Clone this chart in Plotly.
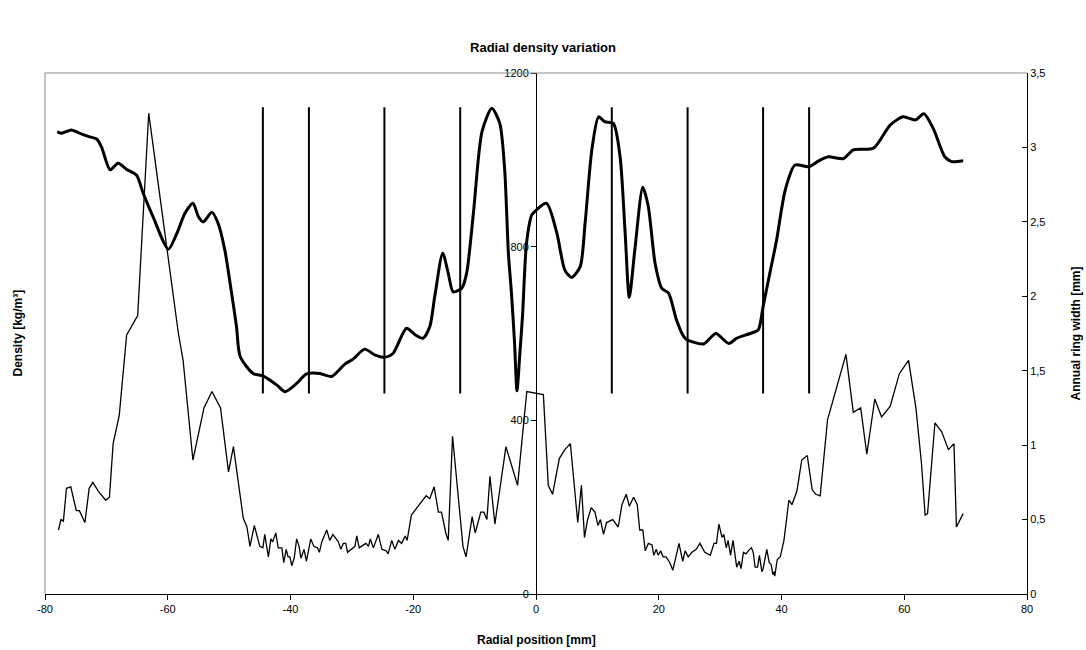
import plotly.graph_objects as go

# ---------------- data ----------------
density_x = [-78.0, -77.3, -75.7, -74.3, -72.7, -71.6, -70.8, -69.4, -68.1, -66.7, -65.1, -64.0,
             -62.4, -59.9, -58.5, -57.2, -55.9, -55.0, -54.2, -52.8, -51.8, -50.7, -49.6, -48.8,
             -48.2, -46.1, -44.4, -42.2, -40.9, -39.0, -37.4, -35.2, -33.3, -31.1, -29.8, -27.9,
             -26.2, -24.6, -23.3, -21.1, -19.7, -18.4, -17.3, -16.5, -15.2, -14.3, -13.5, -12.1,
             -11.3, -10.2, -8.8, -7.2, -5.9, -5.1, -4.5, -4.0, -3.5, -3.1, -2.6, -2.2, -1.6, -1.0,
             -0.7, 1.7, 3.4, 4.7, 5.8, 7.2, 8.0, 9.1, 10.2, 11.2, 12.6, 13.7, 14.5, 15.2, 16.1,
             17.4, 18.3, 19.4, 20.5, 21.6, 22.9, 24.3, 27.3, 29.3, 31.4, 32.7, 34.9, 36.2, 37.0,
             38.1, 39.2, 40.6, 42.2, 44.4, 46.0, 47.6, 50.1, 51.7, 55.0, 57.7, 59.8, 61.8, 63.2,
             64.7, 66.6, 67.7, 69.6]
density_y = [1065, 1061, 1069, 1061, 1053, 1048, 1030, 977, 992, 978, 965, 923,
             869, 794, 831, 877, 900, 869, 857, 879, 854, 792, 693, 616,
             547, 508, 502, 481, 466, 485, 507, 508, 501, 530, 541, 564,
             550, 545, 554, 612, 597, 589, 616, 685, 785, 739, 696, 704,
             739, 877, 1065, 1119, 1084, 977, 785, 693, 580, 468, 560, 640, 800, 858,
             873, 900, 831, 746, 729, 754, 854, 1023, 1099, 1088, 1084, 1007, 838, 683, 792,
             937, 892, 762, 704, 693, 631, 589, 576, 600, 577, 589, 600, 608, 662,
             739, 815, 930, 988, 984, 997, 1007, 1003, 1023, 1027, 1080, 1099, 1092, 1106,
             1073, 1007, 996, 998]

ring_x = [-77.8, -77.4, -77.0, -76.5, -75.8, -74.9, -74.4, -73.5, -72.8, -72.2, -71.3, -70.1,
          -69.5, -68.9, -67.9, -66.7, -64.9, -63.1, -58.3, -57.5, -55.9, -54.1, -52.8, -51.4,
          -50.1, -49.3, -47.7, -47.1, -46.6, -45.9, -45.0, -44.5, -44.2, -43.6, -43.2, -42.9,
          -42.4, -42.0, -41.4, -41.1, -40.7, -40.4, -40.1, -39.8, -39.4, -39.0, -38.6, -38.3,
          -37.8, -37.4, -36.7, -36.2, -35.6, -35.3, -34.9, -34.1, -33.6, -33.1, -32.2, -31.8,
          -31.4, -31.0, -30.7, -29.9, -29.5, -29.2, -28.8, -28.1, -27.7, -27.3, -27.0, -26.5,
          -25.7, -25.1, -24.4, -24.1, -23.5, -23.0, -22.4, -21.9, -21.3, -21.0, -20.3, -19.2,
          -17.9, -17.3, -16.6, -15.9, -15.4, -14.7, -14.3, -13.6, -12.7, -11.9, -11.4, -10.8,
          -10.4, -9.9, -9.0, -8.5, -8.0, -7.5, -6.7, -4.9, -3.0, -1.5, 1.2, 2.0, 2.7, 3.8,
          4.7, 5.6, 6.4, 6.8, 7.4, 7.9, 8.4, 9.0, 9.6, 10.1, 10.5, 11.0, 11.5, 12.5, 13.4,
          14.0, 14.7, 15.2, 15.9, 16.5, 16.9, 17.4, 17.8, 18.3, 18.9, 19.2, 19.6, 19.9, 20.3,
          20.7, 21.2, 21.8, 22.3, 22.6, 23.3, 23.9, 24.3, 24.8, 25.4, 26.1, 26.7, 27.5, 28.4,
          29.0, 29.4, 29.8, 30.3, 30.6, 31.0, 31.3, 31.7, 32.1, 32.7, 33.1, 33.4, 33.8, 34.2,
          34.8, 35.1, 35.4, 35.7, 36.1, 36.4, 36.8, 37.0, 37.6, 38.0, 38.3, 38.6, 38.8, 38.9,
          39.3, 39.8, 40.4, 41.2, 41.7, 42.5, 43.3, 44.2, 45.0, 45.6, 46.3, 47.5, 50.5, 51.7,
          52.9, 53.9, 55.2, 56.3, 57.7, 59.2, 60.7, 61.9, 62.8, 63.4, 63.8, 65.0, 66.1, 67.2,
          68.1, 68.5, 69.6]
ring_y = [0.43, 0.50, 0.49, 0.71, 0.72, 0.56, 0.56, 0.48, 0.71, 0.75, 0.69, 0.63,
          0.65, 1.01, 1.20, 1.74, 1.87, 3.23, 1.76, 1.57, 0.90, 1.25, 1.36, 1.25,
          0.82, 0.99, 0.51, 0.45, 0.32, 0.46, 0.32, 0.31, 0.40, 0.25, 0.37, 0.35,
          0.41, 0.31, 0.31, 0.21, 0.30, 0.25, 0.25, 0.19, 0.24, 0.37, 0.32, 0.24,
          0.30, 0.22, 0.37, 0.32, 0.31, 0.28, 0.35, 0.43, 0.36, 0.40, 0.35, 0.30,
          0.34, 0.34, 0.28, 0.31, 0.32, 0.39, 0.31, 0.33, 0.34, 0.32, 0.37, 0.31,
          0.40, 0.30, 0.29, 0.27, 0.36, 0.30, 0.36, 0.34, 0.39, 0.36, 0.53, 0.59,
          0.66, 0.64, 0.72, 0.55, 0.55, 0.41, 0.36, 1.06, 0.68, 0.32, 0.25, 0.43,
          0.52, 0.41, 0.55, 0.55, 0.50, 0.79, 0.47, 0.99, 0.73, 1.36, 1.34, 0.73, 0.67, 0.91,
          0.97, 1.01, 0.65, 0.48, 0.73, 0.38, 0.50, 0.58, 0.55, 0.46, 0.50, 0.40, 0.48, 0.50, 0.45,
          0.60, 0.67, 0.59, 0.65, 0.60, 0.43, 0.43, 0.29, 0.34, 0.33, 0.26, 0.30, 0.26, 0.29,
          0.25, 0.25, 0.21, 0.16, 0.22, 0.34, 0.22, 0.29, 0.25, 0.28, 0.30, 0.34, 0.28, 0.26,
          0.34, 0.34, 0.47, 0.38, 0.40, 0.31, 0.36, 0.26, 0.36, 0.18, 0.22, 0.17, 0.28, 0.27,
          0.30, 0.31, 0.28, 0.18, 0.18, 0.26, 0.15, 0.17, 0.30, 0.21, 0.20, 0.13, 0.15, 0.12,
          0.23, 0.25, 0.36, 0.63, 0.60, 0.69, 0.90, 0.93, 0.70, 0.67, 0.66, 1.17, 1.61, 1.22,
          1.25, 0.94, 1.31, 1.19, 1.26, 1.48, 1.57, 1.25, 0.88, 0.53, 0.54, 1.15, 1.09, 0.97,
          1.01, 0.45, 0.54]

ring_boundaries = [-44.5, -37.0, -24.7, -12.35, 12.35, 24.7, 37.0, 44.5]
boundary_low, boundary_high = 462, 1121

x_ticks = [-80, -60, -40, -20, 0, 20, 40, 60, 80]
x_tick_labels = ["-80", "-60", "-40", "-20", "0", "20", "40", "60", "80"]
density_ticks = [0, 400, 800, 1200]
ring_ticks = [0, 0.5, 1, 1.5, 2, 2.5, 3, 3.5]
ring_tick_labels = ["0", "0,5", "1", "1,5", "2", "2,5", "3", "3,5"]

# ---------------- figure ----------------
FONT = "Arial, Liberation Sans, sans-serif"

bx, by = [], []
for b in ring_boundaries:
    bx += [b, b, None]
    by += [boundary_low, boundary_high, None]

fig = go.Figure()
fig.add_trace(go.Scatter(x=bx, y=by, mode="lines", line=dict(color="black", width=2),
                         hoverinfo="skip", showlegend=False))
fig.add_trace(go.Scatter(x=density_x, y=density_y, mode="lines",
                         line=dict(color="black", width=3, shape="spline", smoothing=0.7),
                         showlegend=False, name="Density"))
fig.add_trace(go.Scatter(x=ring_x, y=ring_y, mode="lines", yaxis="y2",
                         line=dict(color="black", width=1.3),
                         showlegend=False, name="Annual ring width"))

fig.update_layout(
    width=1086, height=650,
    margin=dict(l=45, r=59, t=73, b=56),
    paper_bgcolor="white", plot_bgcolor="white",
    font=dict(family=FONT, size=11, color="black"),
    title=dict(text="<b>Radial density variation</b>", x=0.5, xref="container",
               y=1 - 47 / 650, yanchor="middle", xanchor="center",
               font=dict(size=13, family=FONT, color="black")),
    xaxis=dict(range=[-80, 80], tickvals=x_ticks, ticktext=x_tick_labels,
               showline=True, linecolor="black", linewidth=1,
               ticks="outside", ticklen=5, tickcolor="black",
               showgrid=False, zeroline=False, tickfont=dict(size=11)),
    yaxis=dict(range=[0, 1200], tickvals=density_ticks, anchor="free", position=0.5,
               showline=True, linecolor="black", linewidth=1,
               ticks="outside", ticklen=5, tickcolor="black",
               showgrid=False, zeroline=False, tickfont=dict(size=11)),
    yaxis2=dict(range=[0, 3.5], tickvals=ring_ticks, ticktext=ring_tick_labels,
                overlaying="y", side="right", anchor="x",
                showline=True, linecolor="black", linewidth=1,
                ticks="inside", ticklen=5, tickcolor="black",
                showgrid=False, zeroline=False, tickfont=dict(size=11)),
    shapes=[
        dict(type="line", xref="paper", yref="paper", x0=0, x1=0, y0=0, y1=1,
             line=dict(color="#8c8c8c", width=1)),
        dict(type="line", xref="paper", yref="paper", x0=0, x1=1, y0=1, y1=1,
             line=dict(color="#8c8c8c", width=1)),
    ],
    annotations=[
        dict(text="<b>Density [kg/m³]</b>", xref="paper", yref="paper",
             x=(17 - 45) / 982, y=0.5, textangle=-90, showarrow=False,
             xanchor="center", yanchor="middle", font=dict(size=12)),
        dict(text="<b>Annual ring width [mm]</b>", xref="paper", yref="paper",
             x=(1075 - 45) / 982, y=0.5, textangle=-90, showarrow=False,
             xanchor="center", yanchor="middle", font=dict(size=12)),
        dict(text="<b>Radial position [mm]</b>", xref="paper", yref="paper",
             x=0.5, y=(594 - 640) / 521, showarrow=False,
             xanchor="center", yanchor="middle", font=dict(size=12)),
    ],
)

fig.write_html("out.html")
